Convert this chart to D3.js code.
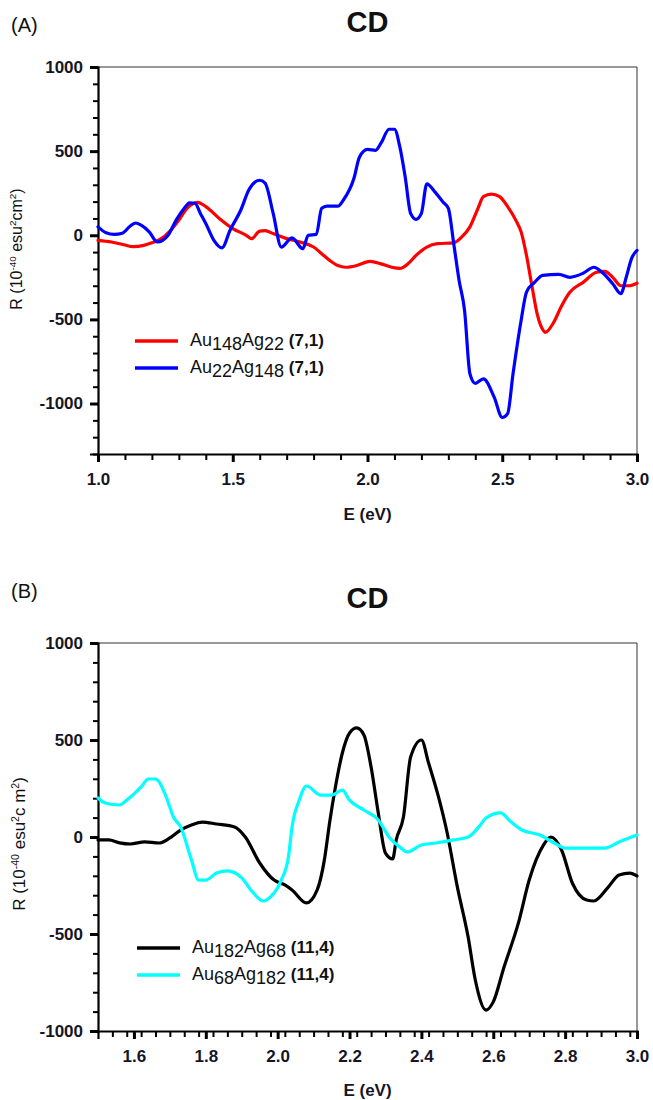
<!DOCTYPE html>
<html>
<head>
<meta charset="utf-8">
<script src="https://cdn.jsdelivr.net/npm/d3@7"></script>
<style>
  html, body { margin: 0; padding: 0; background: #fff; }
  svg { display: block; font-family: "Liberation Sans", Arial, sans-serif; }
</style>
</head>
<body>
<svg id="chart" width="653" height="1100"></svg>
<script>
// ---- Panel (A): Au148Ag22 vs Au22Ag148, (7,1) ----
const eA_red = [1.00,1.05,1.10,1.13,1.17,1.20,1.23,1.27,1.30,1.33,1.37,1.40,1.45,1.50,1.55,1.57,1.60,1.62,1.65,1.70,1.75,1.80,1.83,1.86,1.89,1.92,1.96,2.01,2.05,2.09,2.12,2.15,2.18,2.22,2.26,2.32,2.35,2.38,2.41,2.43,2.46,2.49,2.52,2.55,2.57,2.59,2.61,2.63,2.65,2.66,2.69,2.72,2.75,2.80,2.85,2.88,2.91,2.94,2.97,3.00];
const rA_red = [-30,-40,-58,-68,-60,-45,-25,30,90,160,196,170,100,40,0,-20,25,28,10,-20,-40,-70,-110,-150,-180,-190,-180,-155,-170,-190,-197,-170,-120,-70,-50,-45,-10,50,160,230,244,230,170,90,20,-120,-300,-470,-560,-577,-520,-420,-340,-280,-220,-215,-250,-300,-300,-285];

const eA_blue = [1.00,1.03,1.06,1.09,1.12,1.14,1.16,1.19,1.22,1.24,1.26,1.29,1.32,1.34,1.36,1.38,1.40,1.43,1.46,1.49,1.53,1.56,1.60,1.62,1.65,1.68,1.72,1.76,1.78,1.81,1.83,1.85,1.89,1.91,1.95,1.97,2.00,2.03,2.05,2.08,2.10,2.12,2.14,2.16,2.18,2.20,2.22,2.25,2.28,2.30,2.32,2.34,2.36,2.38,2.40,2.43,2.47,2.50,2.52,2.54,2.57,2.59,2.62,2.65,2.71,2.75,2.80,2.84,2.87,2.91,2.94,2.96,2.98,3.00];
const rA_blue = [50,15,5,12,55,73,60,20,-40,-30,0,90,160,193,190,130,70,-30,-75,30,150,270,327,310,130,-70,-15,-80,0,5,160,173,173,208,340,464,510,505,547,630,630,525,345,130,95,130,305,258,198,160,-50,-270,-445,-823,-880,-853,-962,-1083,-1060,-823,-506,-338,-280,-238,-232,-250,-226,-190,-220,-288,-347,-250,-137,-90];

// ---- Panel (B): Au182Ag68 vs Au68Ag182, (11,4) ----
const eB_black = [1.50,1.53,1.56,1.59,1.63,1.67,1.70,1.73,1.76,1.79,1.83,1.88,1.91,1.95,1.99,2.02,2.04,2.08,2.11,2.13,2.145,2.16,2.18,2.20,2.22,2.24,2.26,2.28,2.30,2.32,2.33,2.35,2.37,2.40,2.42,2.45,2.47,2.50,2.53,2.55,2.58,2.60,2.63,2.67,2.70,2.74,2.76,2.79,2.82,2.86,2.88,2.92,2.95,2.98,3.00];
const rB_black = [-15,-15,-30,-36,-25,-31,-5,36,62,77,67,52,0,-134,-222,-247,-273,-340,-273,-118,80,250,433,536,562,526,361,124,-83,-113,-15,103,412,500,381,190,36,-257,-515,-737,-892,-850,-670,-443,-222,-41,0,-67,-237,-325,-330,-258,-196,-186,-201];

const eB_cyan = [1.50,1.52,1.56,1.58,1.62,1.64,1.66,1.69,1.71,1.73,1.76,1.78,1.80,1.83,1.86,1.90,1.93,1.96,1.98,2.01,2.03,2.04,2.06,2.08,2.12,2.15,2.18,2.20,2.24,2.28,2.31,2.34,2.36,2.40,2.44,2.49,2.53,2.56,2.58,2.62,2.65,2.68,2.73,2.77,2.80,2.86,2.91,2.95,3.00];
const rB_cyan = [201,175,165,190,258,299,299,206,103,52,-118,-222,-222,-186,-175,-211,-283,-330,-309,-222,-103,52,190,263,216,216,242,190,139,88,0,-52,-77,-41,-31,-15,0,52,98,124,77,36,10,-31,-57,-57,-57,-26,10];

// axis tick values
const xTicksA = [1.0, 1.5, 2.0, 2.5, 3.0];
const yTicks = [1000, 500, 0, -500, -1000];
const xTicksB = [1.6, 1.8, 2.0, 2.2, 2.4, 2.6, 2.8, 3.0];

const svg = d3.select("#chart");
const FONT = "Liberation Sans, Arial, sans-serif";

function zip(xs, ys) { return xs.map((x, i) => ({ x, y: ys[i] })); }

function panel(cfg) {
  const g = svg.append("g");
  const x = d3.scaleLinear().domain(cfg.xDomain).range([cfg.left, cfg.right]);
  const y = d3.scaleLinear().domain(cfg.yDomain).range([cfg.bottom, cfg.top]);

  // frame top & right
  g.append("line").attr("x1", cfg.left).attr("x2", cfg.right).attr("y1", cfg.top).attr("y2", cfg.top)
    .attr("stroke", "#333").attr("stroke-width", 1);
  g.append("line").attr("x1", cfg.right).attr("x2", cfg.right).attr("y1", cfg.top).attr("y2", cfg.bottom)
    .attr("stroke", "#333").attr("stroke-width", 1);

  // minor ticks
  const yMinor = d3.range(cfg.yDomain[0], cfg.yDomain[1] + 1, 100).filter(v => v % 500 !== 0);
  g.append("g").attr("transform", `translate(${cfg.left},0)`)
    .call(d3.axisLeft(y).tickValues(yMinor).tickSize(5).tickFormat(""))
    .call(a => a.select(".domain").remove())
    .selectAll("line").attr("stroke", "#000").attr("stroke-width", 2);
  g.append("g").attr("transform", `translate(0,${cfg.bottom})`)
    .call(d3.axisBottom(x).tickValues(cfg.xMinor).tickSize(6).tickFormat(""))
    .call(a => a.select(".domain").remove())
    .selectAll("line").attr("stroke", "#000").attr("stroke-width", 2);

  // major y axis
  const ya = g.append("g").attr("transform", `translate(${cfg.left},0)`)
    .call(d3.axisLeft(y).tickValues(yTicks.filter(v => v >= cfg.yDomain[0])).tickSize(8).tickPadding(7)
      .tickFormat(d => String(d)));
  ya.select(".domain").attr("stroke", "#000").attr("stroke-width", 2.2);
  ya.selectAll(".tick line").attr("stroke", "#000").attr("stroke-width", 3);
  ya.selectAll(".tick text").attr("font-size", 17).attr("font-weight", "bold").attr("fill", "#151525")
    .attr("font-family", FONT);

  // major x axis
  const xa = g.append("g").attr("transform", `translate(0,${cfg.bottom})`)
    .call(d3.axisBottom(x).tickValues(cfg.xTicks).tickSize(8).tickPadding(11)
      .tickFormat(d3.format(".1f")));
  xa.select(".domain").attr("stroke", "#000").attr("stroke-width", 2.2);
  xa.selectAll(".tick line").attr("stroke", "#000").attr("stroke-width", 3);
  xa.selectAll(".tick text").attr("font-size", 17).attr("font-weight", "bold").attr("fill", "#151525")
    .attr("font-family", FONT);

  // curves
  const line = d3.line().x(d => x(d.x)).y(d => y(d.y)).curve(d3.curveMonotoneX);
  cfg.series.forEach(s => {
    g.append("path").datum(zip(s.e, s.r)).attr("d", line)
      .attr("fill", "none").attr("stroke", s.color).attr("stroke-width", 3.2)
      .attr("stroke-linejoin", "round").attr("stroke-linecap", "round");
  });

  // legend
  cfg.series.forEach((s, i) => {
    const ly = cfg.legendY + i * cfg.legendStep;
    g.append("line").attr("x1", cfg.legendX).attr("x2", cfg.legendX + 43)
      .attr("y1", ly - 5).attr("y2", ly - 5).attr("stroke", s.color).attr("stroke-width", 3.5);
    const t = g.append("text").attr("x", cfg.legendX + 55).attr("y", ly)
      .attr("font-size", 18).attr("fill", "#111");
    t.append("tspan").text("Au");
    t.append("tspan").attr("dy", 4).text(s.sub1);
    t.append("tspan").attr("dy", -4).text("Ag");
    t.append("tspan").attr("dy", 4).text(s.sub2);
    t.append("tspan").attr("dy", -4).attr("font-weight", "bold").attr("font-size", 17).text(" " + s.tag);
  });

  // title
  g.append("text").attr("x", (cfg.left + cfg.right) / 2).attr("y", cfg.titleY)
    .attr("text-anchor", "middle").attr("font-size", 29).attr("font-weight", "bold").attr("fill", "#111")
    .text("CD");

  // panel letter
  g.append("text").attr("x", 11).attr("y", cfg.letterY).attr("font-size", 20).attr("fill", "#111")
    .text(cfg.letter);

  // x-axis title
  g.append("text").attr("x", (cfg.left + cfg.right) / 2).attr("y", cfg.xTitleY)
    .attr("text-anchor", "middle").attr("font-size", 17).attr("font-weight", "bold").attr("fill", "#151525")
    .text("E (eV)");

  // y-axis title
  const yt = g.append("text")
    .attr("transform", `translate(${cfg.yTitleX},${cfg.yTitleY}) rotate(-90)`)
    .attr("text-anchor", "middle").attr("font-size", cfg.yTitleSize).attr("fill", "#111");
  const sup = cfg.yTitleSize * 0.62;
  yt.append("tspan").text("R (10");
  yt.append("tspan").attr("dy", -6).attr("font-size", sup).text("-40");
  yt.append("tspan").attr("dy", 6).text(" esu");
  yt.append("tspan").attr("dy", -6).attr("font-size", sup).text("2");
  yt.append("tspan").attr("dy", 6).text(cfg.cm);
  yt.append("tspan").attr("dy", -6).attr("font-size", sup).text("2");
  yt.append("tspan").attr("dy", 6).text(")");
}

panel({
  letter: "(A)", letterY: 32,
  xDomain: [1.0, 3.0], yDomain: [-1300, 1000],
  left: 98, right: 637, top: 67, bottom: 454,
  xTicks: xTicksA,
  xMinor: d3.range(11, 30).map(v => v / 10).filter(v => Math.abs(v * 2 - Math.round(v * 2)) > 1e-6),
  titleY: 32, xTitleY: 520,
  yTitleX: 22, yTitleY: 249, yTitleSize: 16, cm: "cm",
  legendX: 135, legendY: 346, legendStep: 27,
  series: [
    { e: eA_red, r: rA_red, color: "#ff0000", sub1: "148", sub2: "22", tag: "(7,1)" },
    { e: eA_blue, r: rA_blue, color: "#0000ff", sub1: "22", sub2: "148", tag: "(7,1)" }
  ]
});

panel({
  letter: "(B)", letterY: 598,
  xDomain: [1.5, 3.0], yDomain: [-1000, 1000],
  left: 98, right: 637, top: 643, bottom: 1031,
  xTicks: xTicksB,
  xMinor: d3.range(1, 38).map(v => 1.5 + v * 0.04).filter(v => v < 3.0 && Math.abs(v * 5 - Math.round(v * 5)) > 1e-6),
  titleY: 608, xTitleY: 1096,
  yTitleX: 25, yTitleY: 844, yTitleSize: 17, cm: "c m",
  legendX: 137, legendY: 953, legendStep: 27,
  series: [
    { e: eB_black, r: rB_black, color: "#000000", sub1: "182", sub2: "68", tag: "(11,4)" },
    { e: eB_cyan, r: rB_cyan, color: "#00ffff", sub1: "68", sub2: "182", tag: "(11,4)" }
  ]
});
</script>
</body>
</html>
